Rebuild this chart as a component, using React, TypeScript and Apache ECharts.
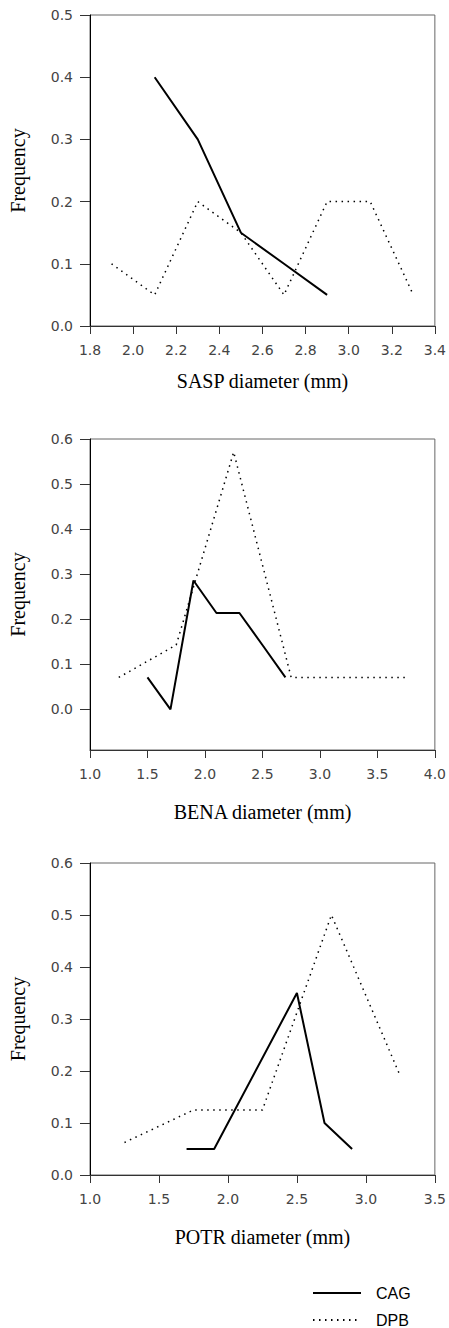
import React, { useEffect, useRef } from "react";
import * as echarts from "echarts";

// Panel 1: SASP
const saspCagX = [2.1, 2.3, 2.5, 2.7, 2.9];
const saspCagY = [0.4, 0.3, 0.15, 0.1, 0.05];
const saspDpbX = [1.9, 2.1, 2.3, 2.5, 2.7, 2.9, 3.1, 3.3];
const saspDpbY = [0.1, 0.05, 0.2, 0.15, 0.05, 0.2, 0.2, 0.05];
const saspXTicks = [1.8, 2.0, 2.2, 2.4, 2.6, 2.8, 3.0, 3.2, 3.4];
const saspYTicks = [0.0, 0.1, 0.2, 0.3, 0.4, 0.5];

// Panel 2: BENA
const benaCagX = [1.5, 1.7, 1.9, 2.1, 2.3, 2.5, 2.7];
const benaCagY = [0.071, 0.0, 0.286, 0.214, 0.214, 0.143, 0.071];
const benaDpbX = [1.25, 1.75, 2.25, 2.75, 3.25, 3.75];
const benaDpbY = [0.071, 0.143, 0.571, 0.071, 0.071, 0.071];
const benaXTicks = [1.0, 1.5, 2.0, 2.5, 3.0, 3.5, 4.0];
const benaYTicks = [0.0, 0.1, 0.2, 0.3, 0.4, 0.5, 0.6];

// Panel 3: POTR
const potrCagX = [1.7, 1.9, 2.5, 2.7, 2.9];
const potrCagY = [0.05, 0.05, 0.35, 0.1, 0.05];
const potrDpbX = [1.25, 1.75, 2.25, 2.75, 3.25];
const potrDpbY = [0.0625, 0.125, 0.125, 0.5, 0.19];
const potrXTicks = [1.0, 1.5, 2.0, 2.5, 3.0, 3.5];
const potrYTicks = [0.0, 0.1, 0.2, 0.3, 0.4, 0.5, 0.6];

const seriesNames = ["CAG", "DPB"];
const xTitles = ["SASP diameter (mm)", "BENA diameter (mm)", "POTR diameter (mm)"];
const yTitle = "Frequency";

const zip = (xs: number[], ys: number[]) => xs.map((x, i) => [x, ys[i]]);

export default function App() {
  const ref = useRef<HTMLDivElement>(null);
  useEffect(() => {
    if (!ref.current) return;
    const chart = echarts.init(ref.current, null, { renderer: "svg" });

    const grids = [
      { left: 90, top: 15, width: 345, height: 311 },
      { left: 90, top: 439, width: 345, height: 311 },
      { left: 90, top: 863, width: 345, height: 312 },
    ];
    const titleGaps = [55, 62, 62];
    const xRanges = [
      { min: 1.8, max: 3.4, ticks: saspXTicks },
      { min: 1.0, max: 4.0, ticks: benaXTicks },
      { min: 1.0, max: 3.5, ticks: potrXTicks },
    ];
    const yRanges = [
      { min: 0, max: 0.5, ticks: saspYTicks },
      { min: -0.09, max: 0.6, ticks: benaYTicks },
      { min: 0, max: 0.6, ticks: potrYTicks },
    ];
    const labelStyle = {
      fontFamily: "DejaVu Sans",
      fontSize: 14,
      color: "#444",
      formatter: (v: number) => Number(v).toFixed(1),
    };

    const xAxis = xRanges.map((r, i) => ({
      type: "value",
      gridIndex: i,
      min: r.min,
      max: r.max,
      splitLine: { show: false },
      axisLine: { show: true, onZero: false, lineStyle: { color: "#333", width: 1 } },
      axisTick: { show: true, length: 8, lineStyle: { color: "#333" }, customValues: r.ticks },
      axisLabel: { ...labelStyle, margin: 17, customValues: r.ticks },
    }));
    const yAxis = yRanges.map((r, i) => ({
      type: "value",
      gridIndex: i,
      min: r.min,
      max: r.max,
      splitLine: { show: false },
      axisLine: { show: true, onZero: false, lineStyle: { color: "#000", width: 1 } },
      axisTick: { show: true, length: 10, lineStyle: { color: "#333" }, customValues: r.ticks },
      axisLabel: { ...labelStyle, margin: 17, customValues: r.ticks },
    }));

    const data = [
      [zip(saspCagX, saspCagY), zip(saspDpbX, saspDpbY)],
      [zip(benaCagX, benaCagY), zip(benaDpbX, benaDpbY)],
      [zip(potrCagX, potrCagY), zip(potrDpbX, potrDpbY)],
    ];
    const series: any[] = [];
    data.forEach((pair, i) => {
      series.push({
        name: seriesNames[0],
        type: "line",
        xAxisIndex: i,
        yAxisIndex: i,
        data: pair[0],
        symbol: "none",
        lineStyle: { color: "#000", width: 2 },
        itemStyle: { color: "#000" },
      });
      series.push({
        name: seriesNames[1],
        type: "line",
        xAxisIndex: i,
        yAxisIndex: i,
        data: pair[1],
        symbol: "none",
        lineStyle: { color: "#000", width: 1.5, type: [1.5, 4.5] },
        itemStyle: { color: "#000" },
      });
    });

    const graphic: any[] = [];
    grids.forEach((g, i) => {
      graphic.push({
        type: "text",
        x: g.left + g.width / 2,
        y: g.top + g.height + titleGaps[i],
        style: {
          text: xTitles[i],
          font: "20px 'Liberation Serif'",
          fill: "#000",
          align: "center",
          verticalAlign: "middle",
        },
      });
      graphic.push({
        type: "text",
        x: 18,
        y: g.top + g.height / 2,
        rotation: Math.PI / 2,
        style: {
          text: yTitle,
          font: "20px 'Liberation Serif'",
          fill: "#000",
          align: "center",
          verticalAlign: "middle",
        },
      });
    });

    const legendCommon = {
      left: 312,
      itemWidth: 48,
      itemHeight: 14,
      padding: 0,
      itemStyle: { opacity: 0 },
      textStyle: { fontFamily: "Liberation Sans", fontSize: 16, color: "#000", padding: [0, 0, 0, 10] },
    };

    chart.setOption({
      animation: false,
      backgroundColor: "#fff",
      grid: grids.map((g) => ({ ...g, show: true, borderColor: "#666", borderWidth: 1, backgroundColor: "transparent" })),
      xAxis,
      yAxis,
      series,
      graphic,
      legend: [
        { ...legendCommon, data: [seriesNames[0]], top: 1285 },
        { ...legendCommon, data: [seriesNames[1]], top: 1312 },
      ],
    });
    return () => chart.dispose();
  }, []);
  return (
    <div
      ref={ref}
      style={{ position: "absolute", left: 0, top: 0, width: 449, height: 1328 }}
    />
  );
}
